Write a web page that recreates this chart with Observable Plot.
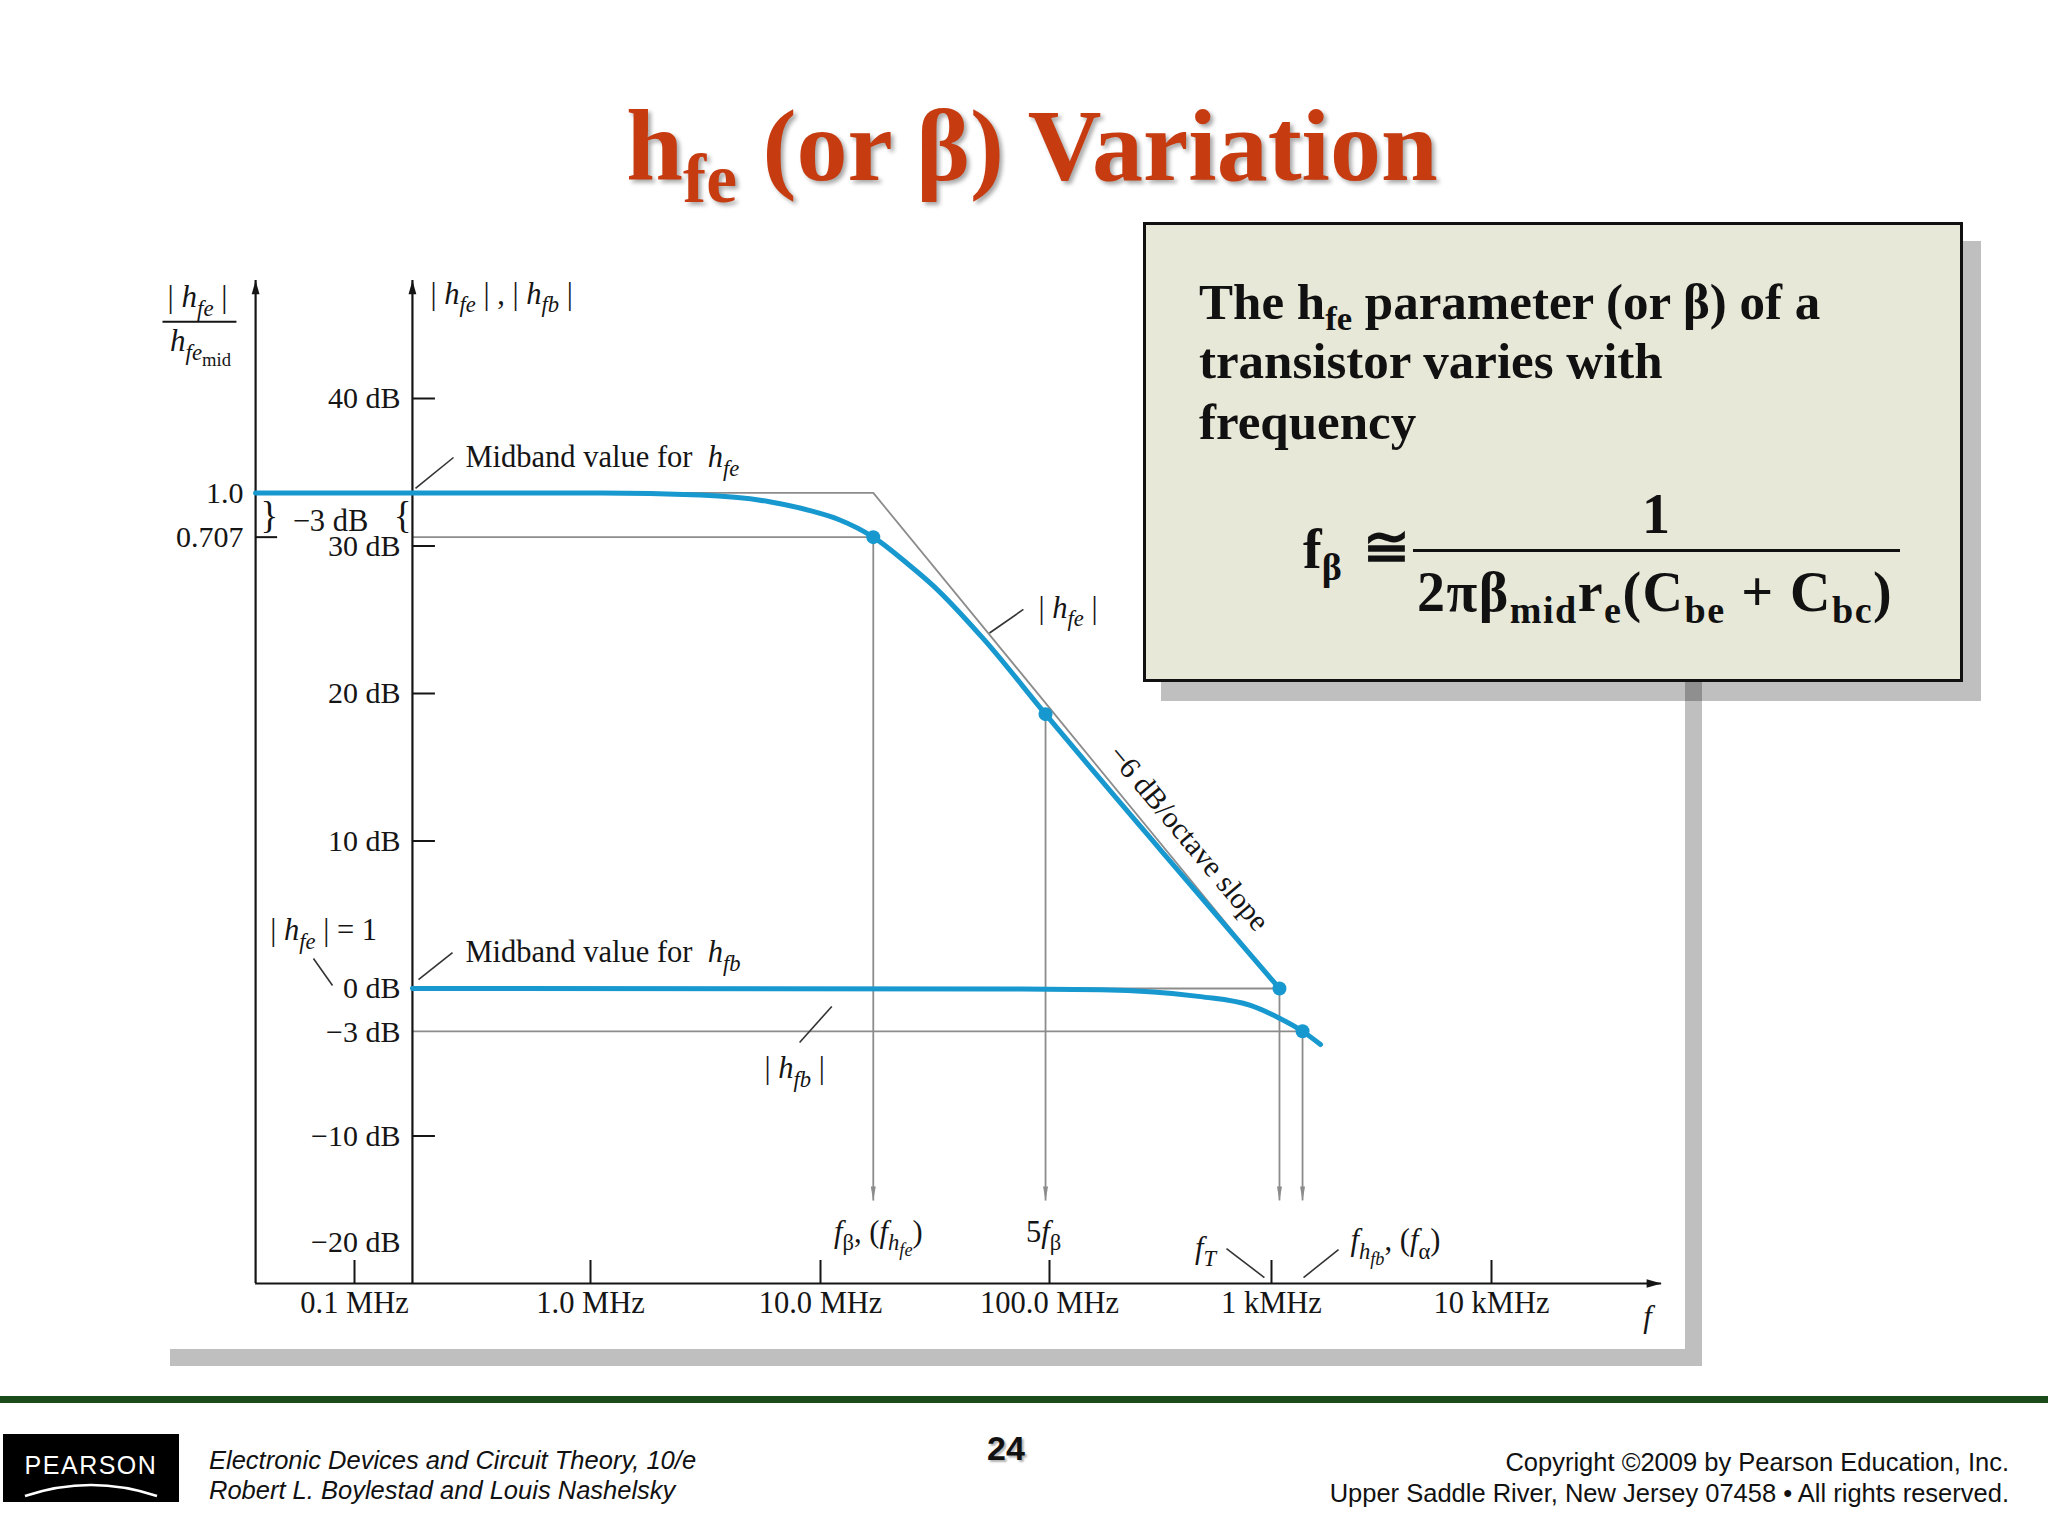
<!DOCTYPE html>
<html><head><meta charset="utf-8">
<script src="https://cdn.jsdelivr.net/npm/d3@7"></script>
<script src="https://cdn.jsdelivr.net/npm/@observablehq/plot@0.6"></script>
<style>
html,body{margin:0;padding:0;background:#fff;}
#page{position:relative;width:2048px;height:1536px;overflow:hidden;background:#fff;}
.at{position:absolute;line-height:0;white-space:nowrap;}
sub{font-size:0.68em;position:relative;top:0.32em;vertical-align:baseline;line-height:0;}
.serifb{font-family:"Liberation Serif","Times New Roman",serif;font-weight:bold;color:#111;}
.sans{font-family:"Liberation Sans",Arial,sans-serif;color:#111;}
#chart{position:absolute;left:0;top:0;z-index:1;}
#box{position:absolute;left:1143px;top:222px;width:820px;height:460px;box-sizing:border-box;border:3px solid #111;background:#e8e8d9;box-shadow:18px 19px 0 rgba(0,0,0,0.25);z-index:2;}
.shadow{position:absolute;background:rgba(0,0,0,0.25);z-index:0;}
#title{z-index:3;font-family:"Liberation Serif","Times New Roman",serif;font-weight:bold;font-size:102px;color:#c73b10;text-shadow:3px 3px 4px rgba(0,0,0,0.35);transform:translateX(-50%);}
</style></head>
<body><div id="page">
  <div class="shadow" style="left:1685px;top:282px;width:17px;height:1084px;"></div>
  <div class="shadow" style="left:170px;top:1349px;width:1515px;height:17px;"></div>
  <div id="chart"></div>

  <div class="at" id="title" style="left:1032px;top:146px;">h<sub>fe</sub> (or β) Variation</div>

  <div id="box"></div>
  <div class="at serifb" style="z-index:3;left:1199px;top:302px;font-size:51px;">The h<sub>fe</sub> parameter (or β) of a</div>
  <div class="at serifb" style="z-index:3;left:1199px;top:361px;font-size:51px;">transistor varies with</div>
  <div class="at serifb" style="z-index:3;left:1199px;top:422px;font-size:51px;">frequency</div>
  <div class="at serifb" style="z-index:3;left:1303px;top:549px;font-size:56px;">f<sub>β</sub></div>
  <div class="at serifb" style="z-index:3;left:1363px;top:547px;font-size:56px;">≅</div>
  <div class="at serifb" style="z-index:3;left:1556px;width:200px;text-align:center;top:514px;font-size:56px;">1</div>
  <div style="position:absolute;z-index:3;left:1413px;top:549px;width:487px;height:3px;background:#111;"></div>
  <div class="at serifb" style="z-index:3;left:1417px;top:592px;font-size:56px;letter-spacing:1.5px;">2πβ<sub>mid</sub>r<sub>e</sub>(C<sub>be</sub> + C<sub>bc</sub>)</div>

  <div style="position:absolute;left:0;top:1396px;width:2048px;height:7px;background:#1b4a1b;"></div>
  <div style="position:absolute;left:3px;top:1434px;width:176px;height:68px;background:#000;">
    <div class="at" style="left:0;width:176px;text-align:center;top:31px;color:#fff;font-family:'Liberation Sans',Arial,sans-serif;font-size:25px;letter-spacing:1.5px;">PEARSON</div>
    <svg width="176" height="68" style="position:absolute;left:0;top:0"><path d="M22,62 Q88,40 154,62" stroke="#fff" stroke-width="2.5" fill="none"/></svg>
  </div>
  <div class="at sans" style="left:209px;top:1460px;font-size:25.5px;font-style:italic;">Electronic Devices and Circuit Theory, 10/e</div>
  <div class="at sans" style="left:209px;top:1490px;font-size:25.5px;font-style:italic;">Robert L. Boylestad and Louis Nashelsky</div>
  <div class="at sans" style="left:906px;width:200px;text-align:center;top:1448px;font-size:34px;font-weight:bold;text-shadow:2px 2px 2px rgba(0,0,0,0.3);">24</div>
  <div class="at sans" style="right:39px;top:1462px;font-size:25.5px;text-align:right;">Copyright ©2009 by Pearson Education, Inc.</div>
  <div class="at sans" style="right:39px;top:1493px;font-size:25.5px;text-align:right;">Upper Saddle River, New Jersey 07458 • All rights reserved.</div>
</div>
<script>
// ---------- data (frequency in MHz, level in dB) ----------
const xTickValues = [0.1, 1, 10, 100, 1000, 10000];
const xTickLabels = ["0.1 MHz", "1.0 MHz", "10.0 MHz", "100.0 MHz", "1 kMHz", "10 kMHz"];
const yTickValues = [40, 30, 20, 10, 0, -3, -10];
const yTickMarks = [40, 30, 20, 10, -10];
const yBottomLabel = [-20];

const hfeFreq = [0.0381, 0.176, 1.105, 3.0, 6.0, 9.0, 12.0, 17.0, 24.0, 31.1, 51.5, 96.1, 316, 1087];
const hfeDb   = [33.6, 33.6, 33.6, 33.45, 33.0, 32.4, 31.8, 30.6, 28.8, 27.3, 23.7, 18.6, 9.4, 0];
const hfbFreq = [0.176, 61.1, 170, 479, 804, 1065, 1384, 1670];
const hfbDb   = [0, -0.03, -0.08, -0.55, -1.15, -1.95, -2.9, -3.8];

const keyFreq = [17.0, 96.1, 1087, 1384];   // fβ, 5fβ, fT, f_hfb
const keyDb   = [30.6, 18.6, 0, -2.9];
const keyGuides = [0, 2, 3];
const asymFreq = [0.176, 17.0, 1087];
const asymDb   = [33.6, 33.6, 0];

const levelLabels = ["1.0", "0.707"];
const levelDb = [33.6, 30.6];

const axisOuterF = 0.0381, axisInnerF = 0.176, axisEndF = 59300;
const axisTopDb = 48, axisBottomDb = -20, dropDb = -14.4;

const noteText = ["Midband value for  ~h_{fe}~", "Midband value for  ~h_{fb}~", "| ~h_{fe}~ |", "| ~h_{fb}~ |",
  "| ~h_{fe}~ | = 1", "| ~h_{fe}~ | , | ~h_{fb}~ |", "~f_{h_{fb}}~, (~f~_{α})"];
const noteF  = [0.2953, 0.2953, 89.6, 5.71, 0.0440, 0.210, 2286];
const noteDb = [36.0, 2.44, 25.8, -5.42, 3.93, 47.1, -17.1];

const midText = ["−3 dB", "~f~_{β}, (~f_{h_{fe}}~)", "5~f~_{β}", "~f_{T}~", "~f~"];
const midF  = [0.0791, 17.9, 94.2, 504, 51170];
const midDb = [31.7, -16.5, -16.5, -17.6, -22.3];

const fracText = ["| ~h_{fe}~ |", "~h_{fe_{~mid~}}~"];
const fracF = [0.02163, 0.02226];
const fracDb = [46.85, 43.9];
const fracBarF1 = [0.01536], fracBarF2 = [0.0316], fracBarDb = [45.2];

const slopeText = ["−6 dB/octave slope"], slopeF = [423], slopeDb = [10.2];
const braceText = ["}", "{"], braceF = [0.0436, 0.1598], braceDb = [32.0, 32.0];

const leadF1 = [0.2627, 0.2602, 76.9, 11.2, 0.0670, 627, 2016];
const leadDb1 = [36.0, 2.44, 25.7, -1.22, 2.03, -17.63, -17.7];
const leadF2 = [0.1813, 0.1867, 54.7, 8.11, 0.0807, 929, 1398];
const leadDb2 = [33.9, 0.61, 24.1, -3.66, 0.2, -19.6, -19.6];

// ---------- drawing ----------
const BLUE = "#1798cf", GRAY = "#8c8c8c", INK = "#151515";
const serif = "'Liberation Serif','Times New Roman',serif";
const idx = a => a.map((_, i) => i);
const fmtDb = d => (d < 0 ? "−" : "") + Math.abs(d) + " dB";

function headSym(dir, ratio, len) {
  return {draw(ctx, size) {
    const r = Math.sqrt(size / Math.PI), w = r * ratio, l = r * len;
    ctx.moveTo(0, 0);
    if (dir === "up") { ctx.lineTo(w, l); ctx.lineTo(-w, l); }
    else if (dir === "down") { ctx.lineTo(w, -l); ctx.lineTo(-w, -l); }
    else { ctx.lineTo(-l, -w); ctx.lineTo(-l, w); }
    ctx.closePath();
  }};
}

const hfe = idx(hfeFreq).map(i => ({f: hfeFreq[i], db: hfeDb[i]}));
const hfb = idx(hfbFreq).map(i => ({f: hfbFreq[i], db: hfbDb[i]}));
const asym = idx(asymFreq).map(i => ({f: asymFreq[i], db: asymDb[i]}));

const plot = Plot.plot({
  width: 2048, height: 1536,
  marginLeft: 412, marginRight: 387, marginTop: 280, marginBottom: 253,
  style: {background: "transparent", overflow: "visible", fontFamily: serif, color: INK},
  x: {type: "log", domain: xTickValues, range: [354, 590, 820, 1049, 1271, 1491]},
  y: {domain: [-20, 40], range: [1283, 398]},
  marks: [
    // gray construction lines
    Plot.line(asym, {x: "f", y: "db", stroke: GRAY, strokeWidth: 1.8}),
    Plot.ruleY(keyGuides, {y: i => keyDb[i], x1: axisInnerF, x2: i => keyFreq[i], stroke: GRAY, strokeWidth: 1.8}),
    Plot.ruleX(idx(keyFreq), {x: i => keyFreq[i], y1: i => keyDb[i], y2: dropDb, stroke: GRAY, strokeWidth: 1.8}),
    Plot.dot(idx(keyFreq), {x: i => keyFreq[i], y: dropDb, r: 5.5, symbol: headSym("down", 0.45, 2.6), fill: GRAY, stroke: "none"}),
    // axes
    Plot.ruleX([axisOuterF, axisInnerF], {x: d => d, y1: axisBottomDb, y2: axisTopDb, stroke: INK, strokeWidth: 2.2}),
    Plot.ruleY([axisBottomDb], {y: d => d, x1: axisOuterF, x2: axisEndF, stroke: INK, strokeWidth: 2.2}),
    Plot.dot([axisOuterF, axisInnerF], {x: d => d, y: axisTopDb, r: 6, symbol: headSym("up", 0.65, 2.3), fill: INK, stroke: "none"}),
    Plot.dot([axisEndF], {x: d => d, y: axisBottomDb, r: 6.5, symbol: headSym("right", 0.65, 2.3), fill: INK, stroke: "none"}),
    Plot.ruleY(yTickMarks, {y: d => d, x1: axisInnerF, x2: axisInnerF, insetRight: -23, stroke: INK, strokeWidth: 2}),
    Plot.ruleY([levelDb[1]], {y: d => d, x1: axisOuterF, x2: axisOuterF, insetRight: -22, stroke: INK, strokeWidth: 2}),
    Plot.ruleX(xTickValues, {x: d => d, y1: axisBottomDb, y2: axisBottomDb, insetTop: -23, stroke: INK, strokeWidth: 2}),
    Plot.axisX(xTickValues, {anchor: "bottom", tickSize: 0, tickPadding: 8, fontSize: 30.5, label: null,
      tickFormat: d => xTickLabels[xTickValues.indexOf(d)], fill: INK}),
    Plot.axisY(yTickValues, {anchor: "left", tickSize: 0, tickPadding: 12, fontSize: 30, label: null, tickFormat: fmtDb, fill: INK}),
    Plot.text(yBottomLabel, {x: axisInnerF, y: d => d, dx: -12, dy: -41, text: fmtDb, textAnchor: "end", fontSize: 30, fill: INK}),
    Plot.text(idx(levelLabels), {x: axisOuterF, y: i => levelDb[i], dx: -12, text: i => levelLabels[i], textAnchor: "end", fontSize: 30, fill: INK}),
    // curves
    Plot.line(hfe, {x: "f", y: "db", stroke: BLUE, strokeWidth: 5, curve: "monotone-x"}),
    Plot.line(hfb, {x: "f", y: "db", stroke: BLUE, strokeWidth: 5, curve: "monotone-x"}),
    Plot.dot(idx(keyFreq), {x: i => keyFreq[i], y: i => keyDb[i], r: 7, fill: BLUE, stroke: "none"}),
    // annotations
    Plot.link(idx(leadF1), {x1: i => leadF1[i], y1: i => leadDb1[i], x2: i => leadF2[i], y2: i => leadDb2[i], stroke: "#333", strokeWidth: 1.6}),
    Plot.link(fracBarDb, {x1: fracBarF1[0], x2: fracBarF2[0], y1: d => d, y2: d => d, stroke: INK, strokeWidth: 2}),
    Plot.text(idx(noteText), {x: i => noteF[i], y: i => noteDb[i], text: i => noteText[i], textAnchor: "start", fontSize: 30.5, fill: INK}),
    Plot.text(idx(midText), {x: i => midF[i], y: i => midDb[i], text: i => midText[i], textAnchor: "middle", fontSize: 30.5, fill: INK}),
    Plot.text(idx(fracText), {x: i => fracF[i], y: i => fracDb[i], text: i => fracText[i], textAnchor: "middle", fontSize: 31, fill: INK}),
    Plot.text(slopeText, {x: slopeF[0], y: slopeDb[0], text: d => d, rotate: 50, textAnchor: "middle", fontSize: 30, fill: INK}),
    Plot.text(idx(braceText), {x: i => braceF[i], y: i => braceDb[i], text: i => braceText[i], textAnchor: "middle", fontSize: 37, fill: INK})
  ]
});
document.getElementById("chart").appendChild(plot);

// rich text: ~ toggles italic, _{...} makes a subscript
const SVGNS = "http://www.w3.org/2000/svg";
const SUB_SCALE = [1, 0.74, 0.6], SUB_SHIFT = [0, 0.28, 0.2];
function richify(el) {
  const s = el.textContent;
  if (!s.includes("~") && !s.includes("_{")) return;
  const base = parseFloat(getComputedStyle(el).fontSize) || 28;
  const runs = []; let buf = "", italic = false, level = 0;
  const flush = () => { if (buf) runs.push({text: buf, italic, level}); buf = ""; };
  for (let i = 0; i < s.length; i++) {
    const c = s[i];
    if (c === "~") { flush(); italic = !italic; }
    else if (c === "_" && s[i + 1] === "{") { flush(); level++; i++; }
    else if (c === "}" && level > 0) { flush(); level--; }
    else buf += c;
  }
  flush();
  el.textContent = "";
  el.setAttribute("xml:space", "preserve");
  el.style.whiteSpace = "pre";
  let prev = 0;
  for (const r of runs) {
    let shift = 0;
    for (let k = 1; k <= r.level; k++) shift += base * SUB_SHIFT[Math.min(k, 2)];
    const t = document.createElementNS(SVGNS, "tspan");
    t.setAttribute("font-size", (base * SUB_SCALE[Math.min(r.level, 2)]).toFixed(1));
    if (r.italic) t.setAttribute("font-style", "italic");
    if (shift !== prev) t.setAttribute("dy", (shift - prev).toFixed(2));
    prev = shift;
    t.textContent = r.text;
    el.appendChild(t);
  }
}
plot.querySelectorAll("text").forEach(richify);
</script>
</body></html>
